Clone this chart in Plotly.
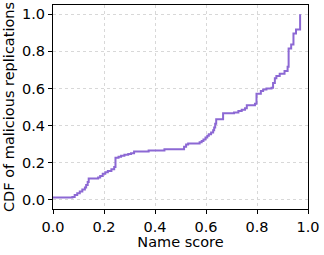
import plotly.graph_objects as go

# CDF step points: at each score the CDF jumps to the given value
scores = [0.0, 0.076, 0.085, 0.095, 0.105, 0.115, 0.125, 0.13, 0.136, 0.14,
          0.177, 0.185, 0.195, 0.205, 0.215, 0.229, 0.24, 0.245, 0.257, 0.267,
          0.28, 0.295, 0.306, 0.318, 0.375, 0.437, 0.514, 0.522, 0.53, 0.575,
          0.583, 0.59, 0.598, 0.605, 0.611, 0.62, 0.628, 0.632, 0.636, 0.64,
          0.667, 0.71, 0.727, 0.74, 0.753, 0.76, 0.792, 0.798, 0.815, 0.824,
          0.837, 0.857, 0.863, 0.87, 0.876, 0.889, 0.908, 0.92, 0.924, 0.934,
          0.943, 0.953, 0.969]
cdf = [0.012, 0.015, 0.025, 0.035, 0.045, 0.055, 0.066, 0.08, 0.095, 0.115,
       0.12, 0.128, 0.14, 0.148, 0.155, 0.165, 0.177, 0.227, 0.232, 0.237,
       0.242, 0.246, 0.25, 0.26, 0.265, 0.272, 0.285, 0.298, 0.303, 0.31,
       0.317, 0.325, 0.335, 0.345, 0.353, 0.362, 0.375, 0.39, 0.41, 0.434,
       0.466, 0.47, 0.478, 0.485, 0.493, 0.51, 0.518, 0.571, 0.586, 0.595,
       0.60, 0.604, 0.63, 0.655, 0.667, 0.679, 0.694, 0.717, 0.815, 0.837,
       0.896, 0.918, 1.0]

tick_vals = [0.0, 0.2, 0.4, 0.6, 0.8, 1.0]
tick_text = ["0.0", "0.2", "0.4", "0.6", "0.8", "1.0"]

fig = go.Figure()
fig.add_trace(go.Scatter(x=scores, y=cdf, mode="lines", line_shape="hv",
                         line=dict(color="#8c68d4", width=2), showlegend=False))

axis_common = dict(
    showline=True, linecolor="black", linewidth=1.2, mirror=True,
    ticks="outside", ticklen=4, tickwidth=1, tickcolor="black",
    showgrid=True, gridcolor="#d8d8d8", griddash="dot", gridwidth=0.8,
    zeroline=False, tickfont=dict(size=14.5, color="black"),
    tickvals=tick_vals, ticktext=tick_text,
)

fig.update_layout(
    width=324, height=255,
    margin=dict(l=53, r=12, t=4, b=46),
    paper_bgcolor="white", plot_bgcolor="white",
    font=dict(family="DejaVu Sans", size=14.5, color="black"),
    xaxis=dict(range=[0, 1], title=dict(text="Name score", font=dict(size=14.5), standoff=2), **axis_common),
    yaxis=dict(range=[-0.05, 1.05], title=dict(text="CDF of malicious replications", font=dict(size=14.5), standoff=3), **axis_common),
)

fig.write_html("out.html", config={"displayModeBar": False},
               post_script="document.body.style.margin='0';")
